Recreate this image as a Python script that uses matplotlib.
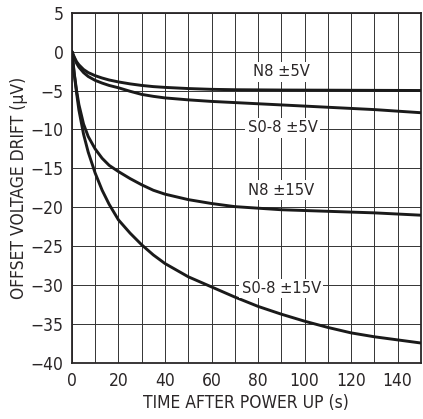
import matplotlib
matplotlib.use("Agg")
import matplotlib.pyplot as plt
from matplotlib.ticker import MultipleLocator
import numpy as np

plt.rcParams["font.family"] = ["DejaVu Sans"]
plt.rcParams["font.stretch"] = "condensed"

# time after power up (s)
time_s = [0, 1, 2, 3, 5, 7, 10, 13, 16, 20, 25, 30, 35, 40, 50, 60, 70, 80, 90,
          100, 110, 120, 130, 140, 150]

# offset voltage drift (uV)
n8_5v = [0, -0.7, -1.3, -1.7, -2.3, -2.7, -3.1, -3.4, -3.65, -3.9, -4.15, -4.35,
         -4.5, -4.6, -4.75, -4.85, -4.9, -4.92, -4.94, -4.95, -4.96, -4.97, -4.98,
         -4.99, -5.0]
so8_5v = [0, -0.8, -1.5, -2.0, -2.7, -3.2, -3.7, -4.05, -4.35, -4.65, -5.1, -5.5,
          -5.75, -5.95, -6.2, -6.4, -6.55, -6.7, -6.85, -7.0, -7.15, -7.3, -7.45,
          -7.65, -7.85]
n8_15v = [0, -2.8, -5.0, -6.8, -9.3, -10.9, -12.5, -13.7, -14.6, -15.4, -16.3,
          -17.1, -17.8, -18.3, -19.0, -19.5, -19.9, -20.1, -20.3, -20.4, -20.5,
          -20.6, -20.7, -20.85, -21.0]
so8_15v = [0, -2.9, -5.3, -7.5, -10.6, -12.9, -15.6, -17.8, -19.6, -21.6, -23.3,
           -24.8, -26.1, -27.2, -28.9, -30.2, -31.5, -32.7, -33.7, -34.6, -35.4,
           -36.1, -36.6, -37.0, -37.4]

series = [
    ("N8 \u00b15V", n8_5v, (90, -2.6)),
    ("S0-8 \u00b15V", so8_5v, (90.5, -9.8)),
    ("N8 \u00b115V", n8_15v, (90, -17.8)),
    ("S0-8 \u00b115V", so8_15v, (90, -30.4)),
]

FS = 12.5
INK = "#2a2627"

fig = plt.figure(figsize=(4.23, 4.19), dpi=100)
ax = fig.add_axes([0.170, 0.133, 0.825, 0.837])

for name, vals, (lx, ly) in series:
    ax.plot(time_s, vals, color="#1a1a1a", linewidth=2.1, solid_capstyle="round",
            solid_joinstyle="round", zorder=3)
    ax.text(lx, ly, name, ha="center", va="center", fontsize=11.8, color=INK,
            bbox=dict(boxstyle="square,pad=0.14", fc="white", ec="none"), zorder=4)

ax.set_xlim(0, 150)
ax.set_ylim(-40, 5)
ax.xaxis.set_minor_locator(MultipleLocator(10))
ax.grid(True, which="both", color="#333333", linewidth=0.7, zorder=1)
ax.set_axisbelow(True)

ax.set_xticks(np.arange(0, 141, 20))
ax.set_yticks(np.arange(-40, 6, 5))
ax.set_yticklabels([str(v).replace("-", "\u2212") for v in range(-40, 6, 5)])
ax.tick_params(which="both", length=0, labelsize=FS, pad=6, colors=INK)

for sp in ax.spines.values():
    sp.set_linewidth(1.3)
    sp.set_color(INK)

ax.set_xlabel("TIME AFTER POWER UP (s)", fontsize=FS, color=INK, labelpad=3)
ax.set_ylabel("OFFSET VOLTAGE DRIFT (\u00b5V)", fontsize=FS, color=INK, labelpad=2)

fig.savefig("out.png", dpi=100)
